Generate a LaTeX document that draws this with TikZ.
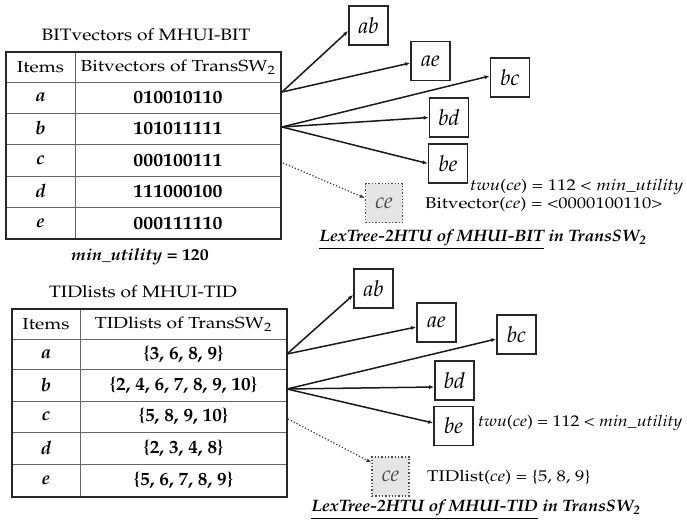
\documentclass[tikz,border=0pt]{standalone}
\usepackage[T1]{fontenc}
\usepackage{mathpazo}
\usepackage{graphicx}
\usetikzlibrary{arrows.meta}
\newcommand\hstr[2]{\scalebox{#1}[1]{#2}}
\tikzset{
  x=1pt, y=-1pt,
  outer/.style={line width=1.7pt, draw=black!85},
  inner/.style={line width=0.7pt, draw=black!60},
  ttl/.style={inner sep=0pt, anchor=center, font=\fontsize{16.5}{18}\selectfont},
  hdr/.style={inner sep=0pt, anchor=center, font=\fontsize{16}{18}\selectfont},
  cell/.style={inner sep=0pt, anchor=center, font=\fontsize{18.5}{20}\selectfont\bfseries},
  lbl/.style={inner sep=0pt, anchor=west, font=\fontsize{15.5}{18}\selectfont},
  captxt/.style={inner sep=0pt, anchor=center, font=\fontsize{16.5}{18}\selectfont\bfseries\itshape},
  tbox/.style={draw=black!85, line width=1.7pt, fill=white, minimum width=39pt, minimum height=39pt, inner sep=0pt, font=\fontsize{22}{24}\selectfont\itshape},
  cebox/.style={draw=black!70, dotted, line width=1.3pt, fill=black!10, minimum width=37pt, minimum height=39pt, inner sep=0pt, font=\fontsize{22}{24}\selectfont\itshape, text=black!70},
  arr/.style={line width=1.5pt, draw=black!90, -{Latex[length=5pt,width=4pt]}},
  darr/.style={line width=1.2pt, draw=black!80, dotted, -{Latex[length=5pt,width=4pt]}}
}
\begin{document}
\begin{tikzpicture}
\useasboundingbox (0,0) rectangle (687,519);

% ---------- top table ----------
\node[ttl] (t1title) at (146,35) {\hstr{1.16}{BITvectors of MHUI-BIT}};
\foreach \yy in {82,113,144,176,207} \draw[inner] (6,\yy) -- (281,\yy);
\draw[inner] (75,52) -- (75,239);
\draw[outer] (6,52) rectangle (281,239);
\node[hdr] (t1h1) at (40.5,67) {\hstr{1.2}{Items}};
\node[hdr] (t1h2) at (178,67) {\hstr{1.2}{Bitvectors of TransSW\textsubscript{2}}};
\node[cell] (t1a) at (40.5,97.5) {\itshape a};
\node[cell] (t1b) at (40.5,128.5) {\itshape b};
\node[cell] (t1c) at (40.5,160) {\itshape c};
\node[cell] (t1d) at (40.5,191.5) {\itshape d};
\node[cell] (t1e) at (40.5,223) {\itshape e};
\node[cell] (t1va) at (178,97.5) {\hstr{1.07}{010010110}};
\node[cell] (t1vb) at (178,128.5) {\hstr{1.07}{101011111}};
\node[cell] (t1vc) at (178,160) {\hstr{1.07}{000100111}};
\node[cell] (t1vd) at (178,191.5) {\hstr{1.07}{111000100}};
\node[cell] (t1ve) at (178,223) {\hstr{1.07}{000111110}};
\node[ttl] (t1min) at (140,257) {\hstr{1.08}{\textbf{\textit{min\_utility}} \textbf{= 120}}};

\coordinate (s1a) at (282,92);
\coordinate (s1b) at (282,127);
\coordinate (s1c) at (283,163);

\node[tbox] (u1ab) at (368.5,25.5) {ab};
\node[tbox] (u1ae) at (430.5,61) {ae};
\node[tbox] (u1bc) at (510,77.5) {bc};
\node[tbox] (u1bd) at (449,117.5) {bd};
\node[tbox] (u1be) at (448,163.5) {be};
\node[cebox] (u1ce) at (384,203) {ce};

\draw[arr] (s1a) -- ([yshift=-5.5pt]u1ab.west);
\draw[arr] (s1a) -- ([yshift=-2pt]u1ae.west);
\draw[arr] (s1b) -- ([yshift=1.5pt]u1bc.west);
\draw[arr] (s1b) -- (u1bd.west);
\draw[arr] (s1b) -- (u1be.west);
\draw[darr] (s1c) -- ([yshift=5pt]u1ce.west);

\node[lbl] (u1twu) at (470,187) {\hstr{1.2}{\textit{twu}(\textit{ce}) = 112 \textless{} \textit{min\_utility}}};
\node[lbl] (u1bv) at (425,205) {\hstr{1.2}{Bitvector(\textit{ce}) = \textless0000100110\textgreater}};
\node[captxt] (u1cap) at (483,240) {\hstr{1.07}{\underline{LexTree-2HTU of MHUI-BIT} in TransSW\textsubscript{2}}};

% ---------- bottom table ----------
\node[ttl] (t2title) at (143,292) {\hstr{1.16}{TIDlists of MHUI-TID}};
\foreach \yy in {339,369,401,432,464} \draw[inner] (12,\yy) -- (287,\yy);
\draw[inner] (80,309) -- (80,497);
\draw[outer] (12,309) rectangle (287,497);
\node[hdr] (t2h1) at (46,324) {\hstr{1.2}{Items}};
\node[hdr] (t2h2) at (183.5,324) {\hstr{1.2}{TIDlists of TransSW\textsubscript{2}}};
\node[cell] (t2a) at (46,354) {\itshape a};
\node[cell] (t2b) at (46,385) {\itshape b};
\node[cell] (t2c) at (46,416.5) {\itshape c};
\node[cell] (t2d) at (46,448) {\itshape d};
\node[cell] (t2e) at (46,480.5) {\itshape e};
\node[cell] (t2va) at (183.5,354) {\hstr{1.04}{\{3, 6, 8, 9\}}};
\node[cell] (t2vb) at (183.5,385) {\hstr{1.04}{\{2, 4, 6, 7, 8, 9, 10\}}};
\node[cell] (t2vc) at (183.5,416.5) {\hstr{1.04}{\{5, 8, 9, 10\}}};
\node[cell] (t2vd) at (183.5,448) {\hstr{1.04}{\{2, 3, 4, 8\}}};
\node[cell] (t2ve) at (183.5,480.5) {\hstr{1.04}{\{5, 6, 7, 8, 9\}}};

\coordinate (s2a) at (287,354);
\coordinate (s2b) at (287,389);
\coordinate (s2c) at (288,419);

\node[tbox] (u2ab) at (373.5,288.5) {ab};
\node[tbox] (u2ae) at (436.5,322.5) {ae};
\node[tbox] (u2bc) at (516.5,334.5) {bc};
\node[tbox] (u2bd) at (454.5,380.5) {bd};
\node[tbox] (u2be) at (453.5,426) {be};
\node[cebox] (u2ce) at (390.5,476.5) {ce};

\draw[arr] (s2a) -- ([yshift=-6.5pt]u2ab.west);
\draw[arr] (s2a) -- ([yshift=-4.5pt]u2ae.west);
\draw[arr] (s2b) -- ([yshift=-4.5pt]u2bc.west);
\draw[arr] (s2b) -- ([yshift=-6.5pt]u2bd.west);
\draw[arr] (s2b) -- ([yshift=3pt]u2be.west);
\draw[darr] (s2c) -- ([yshift=14pt]u2ce.west);

\node[lbl] (u2twu) at (478,423) {\hstr{1.15}{\textit{twu}(\textit{ce}) = 112 \textless{} \textit{min\_utility}}};
\node[lbl] (u2tl) at (427,478) {\hstr{1.2}{TIDlist(\textit{ce}) = \{5, 8, 9\}}};
\node[captxt] (u2cap) at (476,510) {\hstr{1.07}{\underline{LexTree-2HTU of MHUI-TID} in TransSW\textsubscript{2}}};
\end{tikzpicture}
\end{document}
